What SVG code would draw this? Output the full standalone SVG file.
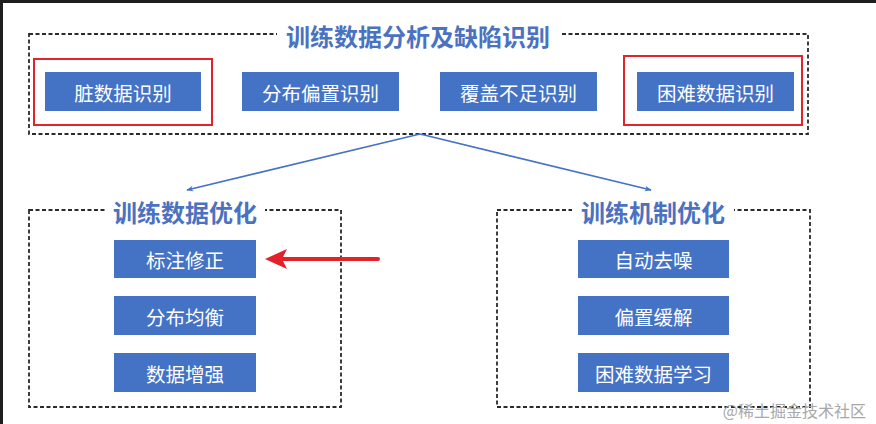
<svg xmlns="http://www.w3.org/2000/svg" width="876" height="424" viewBox="0 0 876 424">
<style>
.frame{fill:none;stroke:#2a2a2a;stroke-width:1.8;stroke-dasharray:4 2.5}
.box{fill:#4472c4}
.lbl{font-family:"Noto Sans CJK SC","Noto Sans",sans-serif;font-size:19.5px;fill:#ffffff;text-anchor:middle;dominant-baseline:central}
.ttl{font-family:"Noto Sans CJK SC","Noto Sans",sans-serif;font-size:24px;font-weight:bold;fill:#4a72c0;text-anchor:middle;dominant-baseline:central}
.gap{fill:#ffffff}
.hl{fill:none;stroke:#e0242c;stroke-width:2}
.conn{fill:none;stroke:#4472c4;stroke-width:1.6}
</style>
<defs>
<marker id="ah" viewBox="0 0 10 10" refX="9" refY="5" markerWidth="7" markerHeight="7" orient="auto" markerUnits="userSpaceOnUse">
<path d="M0,1 L10,5 L0,9 L3,5 Z" fill="#4472c4"/>
</marker>
</defs>
<rect x="0" y="0" width="876" height="424" fill="#ffffff"/>
<rect x="0" y="0" width="876" height="3" fill="#1e1e1e"/>
<rect x="0" y="0" width="3" height="424" fill="#1e1e1e"/>

<g id="group-analysis">
<rect class="frame" x="29" y="34" width="779" height="100"/>
<rect class="gap" x="277" y="21" width="284" height="28"/>
<text class="ttl" x="418" y="35">训练数据分析及缺陷识别</text>
</g>
<g id="node-dirty">
<rect class="hl" x="34" y="59" width="178" height="66"/>
<rect class="box" x="45" y="72" width="156" height="39"/>
<text class="lbl" x="123" y="92">脏数据识别</text>
</g>
<g id="node-bias">
<rect class="box" x="242" y="72" width="157" height="39"/>
<text class="lbl" x="320.5" y="92">分布偏置识别</text>
</g>
<g id="node-coverage">
<rect class="box" x="440" y="72" width="157" height="39"/>
<text class="lbl" x="518.5" y="92">覆盖不足识别</text>
</g>
<g id="node-hard">
<rect class="hl" x="624" y="56" width="178" height="69"/>
<rect class="box" x="637" y="72" width="157" height="39"/>
<text class="lbl" x="715.5" y="92">困难数据识别</text>
</g>

<g id="group-data">
<rect class="frame" x="29" y="210" width="312" height="197"/>
<rect class="gap" x="105" y="197" width="160" height="28"/>
<text class="ttl" x="185" y="211">训练数据优化</text>
</g>
<g id="node-label">
<rect class="box" x="114" y="240" width="142" height="38"/>
<text class="lbl" x="185" y="259.5">标注修正</text>
</g>
<g id="node-balance">
<rect class="box" x="114" y="296" width="142" height="39"/>
<text class="lbl" x="185" y="316">分布均衡</text>
</g>
<g id="node-augment">
<rect class="box" x="114" y="353" width="142" height="39"/>
<text class="lbl" x="185" y="373">数据增强</text>
</g>

<g id="group-mechanism">
<rect class="frame" x="497" y="210" width="313" height="197"/>
<rect class="gap" x="572" y="197" width="162" height="28"/>
<text class="ttl" x="653" y="211">训练机制优化</text>
</g>
<g id="node-denoise">
<rect class="box" x="578" y="240" width="151" height="38"/>
<text class="lbl" x="653.5" y="259.5">自动去噪</text>
</g>
<g id="node-debias">
<rect class="box" x="578" y="296" width="151" height="39"/>
<text class="lbl" x="653.5" y="316">偏置缓解</text>
</g>
<g id="node-hardlearn">
<rect class="box" x="578" y="353" width="151" height="39"/>
<text class="lbl" x="653.5" y="373">困难数据学习</text>
</g>

<g id="connectors">
<path class="conn" d="M420,134 L187,190" marker-end="url(#ah)"/>
<path class="conn" d="M420,134 L651,190" marker-end="url(#ah)"/>
<path d="M378,259 L280,259" stroke="#e4202a" stroke-width="4" stroke-linecap="round" fill="none"/>
<path d="M265,259 L287,249 L282,259 L287,269 Z" fill="#e4202a"/>
</g>

<text x="866" y="410" font-family="Noto Sans CJK SC,Noto Sans,sans-serif" font-size="16" fill="#a8a8a8" text-anchor="end" dominant-baseline="central">@稀土掘金技术社区</text>
</svg>
